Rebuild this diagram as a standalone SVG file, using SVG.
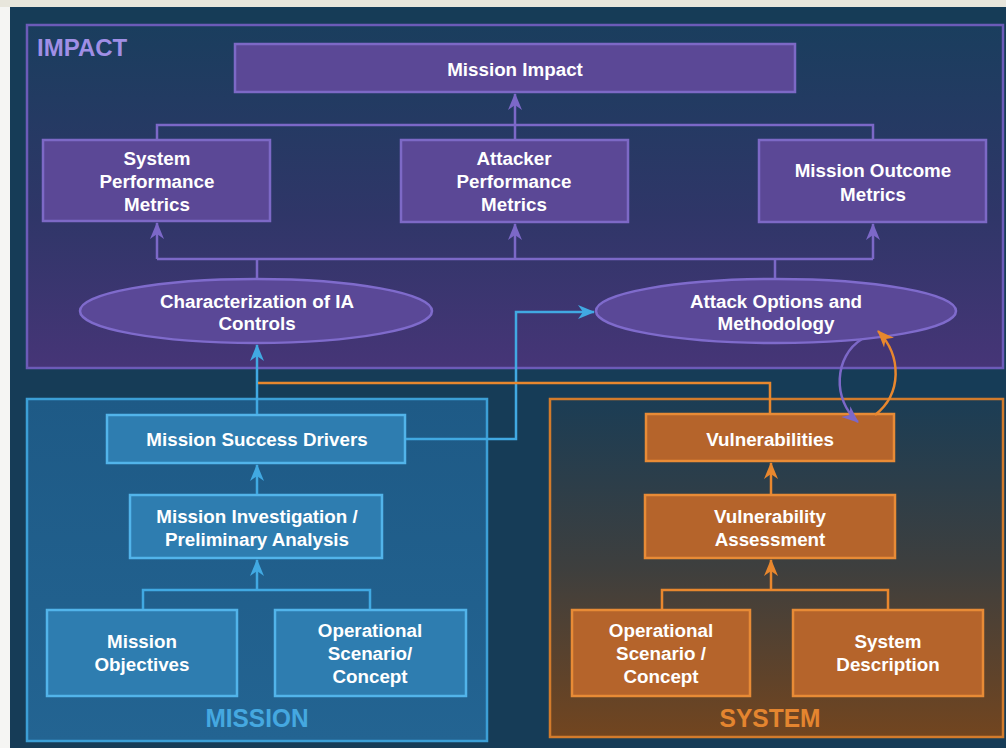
<svg xmlns="http://www.w3.org/2000/svg" width="1006" height="748" viewBox="0 0 1006 748">
  <defs>
    <linearGradient id="gImpact" x1="0" y1="0" x2="0" y2="1">
      <stop offset="0" stop-color="#1a3e5e"/>
      <stop offset="0.55" stop-color="#2f3668"/>
      <stop offset="1" stop-color="#463577"/>
    </linearGradient>
    <linearGradient id="gSystem" x1="0" y1="0" x2="0" y2="1">
      <stop offset="0" stop-color="#1b3d55"/>
      <stop offset="0.5" stop-color="#3e3f3e"/>
      <stop offset="1" stop-color="#72451f"/>
    </linearGradient>
    <linearGradient id="gMission" x1="0" y1="0" x2="0" y2="1">
      <stop offset="0" stop-color="#1e5a86"/>
      <stop offset="1" stop-color="#236492"/>
    </linearGradient>
    <marker id="aP" markerWidth="18" markerHeight="16" refX="16" refY="8" orient="auto" markerUnits="userSpaceOnUse">
      <path d="M0,1 L17,8 L0,15 L5,8 z" fill="#7c68c8"/>
    </marker>
    <marker id="aB" markerWidth="18" markerHeight="16" refX="16" refY="8" orient="auto" markerUnits="userSpaceOnUse">
      <path d="M0,1 L17,8 L0,15 L5,8 z" fill="#41a9e2"/>
    </marker>
    <marker id="aO" markerWidth="18" markerHeight="16" refX="16" refY="8" orient="auto" markerUnits="userSpaceOnUse">
      <path d="M0,1 L17,8 L0,15 L5,8 z" fill="#e8872e"/>
    </marker>
    <style>
      .t { font-family: "Liberation Sans", Arial, Helvetica, sans-serif; font-weight: bold; font-size: 18.8px; fill: #ffffff; text-anchor: middle; }
      .lbl { font-family: "Liberation Sans", Arial, Helvetica, sans-serif; font-weight: bold; text-anchor: middle; }
      .pbox { fill: #5b4896; stroke: #7d69c6; stroke-width: 2.5; }
      .bbox { fill: #2e7db0; stroke: #52b4ea; stroke-width: 2.5; }
      .obox { fill: #b5642b; stroke: #e88b36; stroke-width: 2.5; }
      .pl { fill: none; stroke: #7c68c8; stroke-width: 2.5; }
      .bl { fill: none; stroke: #41a9e2; stroke-width: 2.5; }
      .ol { fill: none; stroke: #e8872e; stroke-width: 2.5; }
    </style>
  </defs>

  <!-- page background -->
  <rect x="0" y="0" width="1006" height="748" fill="#f5f5f3"/>
  <rect x="0" y="0" width="1006" height="7" fill="#e8e6dc"/>
  <rect x="10" y="7" width="996" height="741" fill="#163c57"/>

  <!-- containers -->
  <g id="impact-area">
    <rect x="27" y="25" width="976" height="343" fill="url(#gImpact)" stroke="#6c5bb8" stroke-width="2.5"/>
    <text class="lbl" x="37" y="56" font-size="24" fill="#a08fe6" style="text-anchor:start">IMPACT</text>
  </g>
  <g id="mission-area">
    <rect x="27" y="399" width="460" height="342" fill="url(#gMission)" stroke="#3c9fd6" stroke-width="2.5"/>
    <text class="lbl" x="257" y="727" font-size="26" fill="#45a8e0" textLength="103" lengthAdjust="spacingAndGlyphs">MISSION</text>
  </g>
  <g id="system-area">
    <rect x="550" y="399" width="453" height="338" fill="url(#gSystem)" stroke="#d27b2c" stroke-width="2.5"/>
    <text class="lbl" x="770" y="727" font-size="26" fill="#e4852f" textLength="101" lengthAdjust="spacingAndGlyphs">SYSTEM</text>
  </g>

  <!-- impact nodes -->
  <g id="mission-impact">
    <rect class="pbox" x="235" y="44" width="560" height="48"/>
    <text class="t" x="515" y="76">Mission Impact</text>
  </g>
  <g id="system-performance-metrics">
    <rect class="pbox" x="43" y="140" width="227" height="81"/>
    <text class="t" x="157" y="164.5">System</text>
    <text class="t" x="157" y="188">Performance</text>
    <text class="t" x="157" y="211">Metrics</text>
  </g>
  <g id="attacker-performance-metrics">
    <rect class="pbox" x="401" y="140" width="227" height="82"/>
    <text class="t" x="514" y="164.5">Attacker</text>
    <text class="t" x="514" y="188">Performance</text>
    <text class="t" x="514" y="211">Metrics</text>
  </g>
  <g id="mission-outcome-metrics">
    <rect class="pbox" x="759" y="140" width="227" height="82"/>
    <text class="t" x="873" y="177">Mission Outcome</text>
    <text class="t" x="873" y="200.5">Metrics</text>
  </g>
  <g id="characterization-ia-controls">
    <ellipse cx="256" cy="311" rx="176" ry="32" fill="#5a4897" stroke="#7f6bcc" stroke-width="2.5"/>
    <text class="t" x="257" y="307.5">Characterization of IA</text>
    <text class="t" x="257" y="329.5">Controls</text>
  </g>
  <g id="attack-options-methodology">
    <ellipse cx="776" cy="311" rx="180" ry="32" fill="#5a4897" stroke="#7f6bcc" stroke-width="2.5"/>
    <text class="t" x="776" y="308">Attack Options and</text>
    <text class="t" x="776" y="330">Methodology</text>
  </g>

  <!-- mission nodes -->
  <g id="mission-success-drivers">
    <rect class="bbox" x="107" y="415" width="298" height="48"/>
    <text class="t" x="257" y="446">Mission Success Drivers</text>
  </g>
  <g id="mission-investigation">
    <rect class="bbox" x="130" y="495" width="252" height="63"/>
    <text class="t" x="257" y="523">Mission Investigation /</text>
    <text class="t" x="257" y="545.5">Preliminary Analysis</text>
  </g>
  <g id="mission-objectives">
    <rect class="bbox" x="47" y="610" width="190" height="86"/>
    <text class="t" x="142" y="648">Mission</text>
    <text class="t" x="142" y="671">Objectives</text>
  </g>
  <g id="mission-operational-scenario">
    <rect class="bbox" x="275" y="610" width="191" height="86"/>
    <text class="t" x="370" y="637">Operational</text>
    <text class="t" x="370" y="660">Scenario/</text>
    <text class="t" x="370" y="683">Concept</text>
  </g>

  <!-- system nodes -->
  <g id="vulnerabilities">
    <rect class="obox" x="646" y="414" width="248" height="47"/>
    <text class="t" x="770" y="445.5">Vulnerabilities</text>
  </g>
  <g id="vulnerability-assessment">
    <rect class="obox" x="645" y="495" width="250" height="63"/>
    <text class="t" x="770" y="523">Vulnerability</text>
    <text class="t" x="770" y="545.5">Assessment</text>
  </g>
  <g id="system-operational-scenario">
    <rect class="obox" x="572" y="610" width="178" height="86"/>
    <text class="t" x="661" y="637">Operational</text>
    <text class="t" x="661" y="660">Scenario /</text>
    <text class="t" x="661" y="683">Concept</text>
  </g>
  <g id="system-description">
    <rect class="obox" x="793" y="610" width="190" height="86"/>
    <text class="t" x="888" y="648">System</text>
    <text class="t" x="888" y="671">Description</text>
  </g>

  <!-- connectors -->
  <g id="connectors">
    <path class="pl" d="M157,139 V125 H873 V139"/>
    <path class="pl" d="M515,139 V125"/>
    <path class="pl" d="M515,125 V94" marker-end="url(#aP)"/>
    <path class="pl" d="M157,259 H873"/>
    <path class="pl" d="M157,259 V223" marker-end="url(#aP)"/>
    <path class="pl" d="M515,259 V224" marker-end="url(#aP)"/>
    <path class="pl" d="M873,259 V224" marker-end="url(#aP)"/>
    <path class="pl" d="M257,259 V278"/>
    <path class="pl" d="M775,259 V278"/>
    <path class="pl" d="M862,339 C834,356 832,400 858,422" marker-end="url(#aP)"/>

    <path class="bl" d="M143,609 V590 H370 V609"/>
    <path class="bl" d="M257,590 V560" marker-end="url(#aB)"/>
    <path class="bl" d="M257,494 V465" marker-end="url(#aB)"/>
    <path class="bl" d="M257,414 V345" marker-end="url(#aB)"/>
    <path class="bl" d="M406,439 H516 V312 H594" marker-end="url(#aB)"/>

    <path class="ol" d="M770,413 V383 H258"/>
    <path class="ol" d="M662,609 V590 H888 V609"/>
    <path class="ol" d="M771,590 V560" marker-end="url(#aO)"/>
    <path class="ol" d="M771,494 V463" marker-end="url(#aO)"/>
    <path class="ol" d="M875,415 C902,394 902,356 878,331" marker-end="url(#aO)"/>
  </g>
</svg>
